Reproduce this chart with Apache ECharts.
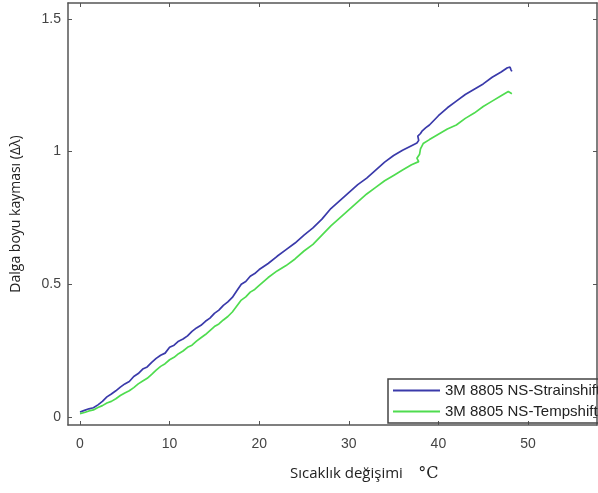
<!DOCTYPE html>
<html>
<head>
<meta charset="utf-8">
<script src="https://cdn.jsdelivr.net/npm/echarts@6/dist/echarts.min.js"></script>
<style>
  html, body { margin: 0; padding: 0; background: #fff; }
  #chart { width: 598px; height: 493px; }
</style>
</head>
<body>
<div id="chart"></div>
<script>
// temperature change (°C) and wavelength shift values
var strainX = [0, 0.5, 1, 1.5, 2, 2.5, 3, 3.5, 4, 4.5, 5, 5.5, 6, 6.5, 7, 7.5, 8, 8.5, 9, 9.5, 10, 10.5, 11, 11.5, 12, 12.5, 13, 13.5, 14, 14.5, 15, 15.5, 16, 16.5, 17, 17.5, 18, 18.5, 19, 19.5, 20, 21, 22, 23, 24, 25, 26, 27, 28, 29, 30, 31, 32, 33, 34, 35, 36, 37, 37.6, 37.8, 37.7, 38, 38.2, 38.6, 39, 40, 41, 42, 43, 44, 45, 46, 47, 47.7, 48, 48.1, 48.2];
var strainY = [0.018, 0.024, 0.03, 0.034, 0.045, 0.058, 0.075, 0.086, 0.098, 0.112, 0.124, 0.133, 0.152, 0.163, 0.18, 0.188, 0.205, 0.22, 0.232, 0.24, 0.262, 0.27, 0.285, 0.293, 0.305, 0.322, 0.335, 0.345, 0.36, 0.372, 0.39, 0.402, 0.42, 0.433, 0.45, 0.475, 0.5, 0.51, 0.53, 0.54, 0.555, 0.578, 0.605, 0.63, 0.655, 0.685, 0.712, 0.745, 0.785, 0.815, 0.845, 0.875, 0.9, 0.93, 0.96, 0.985, 1.005, 1.022, 1.032, 1.042, 1.058, 1.068, 1.078, 1.09, 1.1, 1.135, 1.165, 1.19, 1.215, 1.235, 1.255, 1.28, 1.3, 1.316, 1.318, 1.308, 1.302];

var tempX = [0, 0.5, 1, 1.5, 2, 2.5, 3, 3.5, 4, 4.5, 5, 5.5, 6, 6.5, 7, 7.5, 8, 8.5, 9, 9.5, 10, 10.5, 11, 11.5, 12, 12.5, 13, 13.5, 14, 14.5, 15, 15.5, 16, 16.5, 17, 17.5, 18, 18.5, 19, 19.5, 20, 21, 22, 23, 24, 25, 26, 27, 28, 29, 30, 31, 32, 33, 34, 35, 36, 37, 37.8, 37.6, 37.9, 38, 38.3, 39, 40, 41, 42, 43, 44, 45, 46, 47, 47.8, 48, 48.2];
var tempY = [0.012, 0.016, 0.022, 0.026, 0.035, 0.042, 0.052, 0.058, 0.068, 0.08, 0.09, 0.098, 0.11, 0.124, 0.135, 0.145, 0.16, 0.176, 0.19, 0.2, 0.215, 0.224, 0.238, 0.248, 0.262, 0.27, 0.285, 0.298, 0.31, 0.325, 0.34, 0.35, 0.365, 0.378, 0.395, 0.418, 0.44, 0.452, 0.47, 0.48, 0.495, 0.525, 0.55, 0.57, 0.595, 0.625, 0.65, 0.685, 0.72, 0.75, 0.78, 0.81, 0.84, 0.865, 0.89, 0.91, 0.93, 0.95, 0.962, 0.975, 0.99, 1.01, 1.03, 1.045, 1.065, 1.085, 1.1, 1.125, 1.145, 1.17, 1.19, 1.21, 1.226, 1.224, 1.218];

var xTicks = [0, 10, 20, 30, 40, 50];
var yTicks = [0, 0.5, 1, 1.5];
var seriesNames = ['3M 8805 NS-Strainshift', '3M 8805 NS-Tempshift'];

function pairs(xs, ys) {
  return xs.map(function (x, i) { return [x, ys[i]]; });
}

var axisLine = { show: true, onZero: false, lineStyle: { color: '#555', width: 1.5 } };
var labelStyle = { color: '#444', fontSize: 14, fontFamily: 'Arial, Liberation Sans, sans-serif' };

var myChart = echarts.init(document.getElementById('chart'));
var option = {
  animation: false,
  backgroundColor: '#fff',
  grid: { left: 68, top: 3, right: 1, bottom: 68 },
  legend: {
    left: 388,
    top: 379,
    orient: 'vertical',
    icon: 'rect',
    itemWidth: 47,
    itemHeight: 2,
    itemGap: 6,
    padding: [4, 60, 4, 5],
    borderColor: '#444',
    borderWidth: 1.5,
    data: seriesNames,
    textStyle: { color: '#222', fontSize: 15, lineHeight: 15, fontFamily: 'Arial, Liberation Sans, sans-serif' }
  },
  xAxis: [
    {
      type: 'value',
      min: -1.34,
      max: 57.7,
      axisLine: axisLine,
      splitLine: { show: false },
      axisTick: { inside: true, length: 4, customValues: xTicks, lineStyle: { color: '#555' } },
      axisLabel: {
        customValues: xTicks,
        margin: 12,
        formatter: function (v) { return String(v); },
        color: labelStyle.color, fontSize: labelStyle.fontSize, fontFamily: labelStyle.fontFamily
      }
    },
    {
      type: 'value',
      position: 'top',
      min: -1.34,
      max: 57.7,
      axisLine: axisLine,
      splitLine: { show: false },
      axisTick: { inside: true, length: 4, customValues: xTicks, lineStyle: { color: '#555' } },
      axisLabel: { show: false }
    }
  ],
  yAxis: [
    {
      type: 'value',
      min: -0.031,
      max: 1.56,
      name: 'Dalga boyu kayması (Δλ)',
      nameLocation: 'middle',
      nameGap: 45,
      nameTextStyle: { color: '#222', fontSize: 14, fontFamily: 'Open Sans, sans-serif' },
      axisLine: axisLine,
      splitLine: { show: false },
      axisTick: { inside: true, length: 4, customValues: yTicks, lineStyle: { color: '#555' } },
      axisLabel: {
        customValues: yTicks,
        margin: 7,
        formatter: function (v) { return String(v); },
        color: labelStyle.color, fontSize: labelStyle.fontSize, fontFamily: labelStyle.fontFamily
      }
    },
    {
      type: 'value',
      position: 'right',
      min: -0.031,
      max: 1.56,
      axisLine: axisLine,
      splitLine: { show: false },
      axisTick: { inside: true, length: 4, customValues: yTicks, lineStyle: { color: '#555' } },
      axisLabel: { show: false }
    }
  ],
  graphic: [
    {
      type: 'text',
      left: 290,
      top: 466,
      style: {
        text: '{a|Sıcaklık değişimi}{b|   °C}',
        rich: {
          a: { fontSize: 15, fill: '#222', fontFamily: 'Open Sans, sans-serif' },
          b: { fontSize: 16, fill: '#222', fontFamily: 'DejaVu Serif, serif' }
        }
      }
    }
  ],
  series: [
    {
      name: seriesNames[0],
      type: 'line',
      symbol: 'none',
      data: pairs(strainX, strainY),
      lineStyle: { color: '#3a3aaa', width: 1.7 },
      itemStyle: { color: '#3a3aaa' }
    },
    {
      name: seriesNames[1],
      type: 'line',
      symbol: 'none',
      data: pairs(tempX, tempY),
      lineStyle: { color: '#4fdc4f', width: 1.7 },
      itemStyle: { color: '#4fdc4f' }
    }
  ]
};
myChart.setOption(option, true);
</script>
</body>
</html>
